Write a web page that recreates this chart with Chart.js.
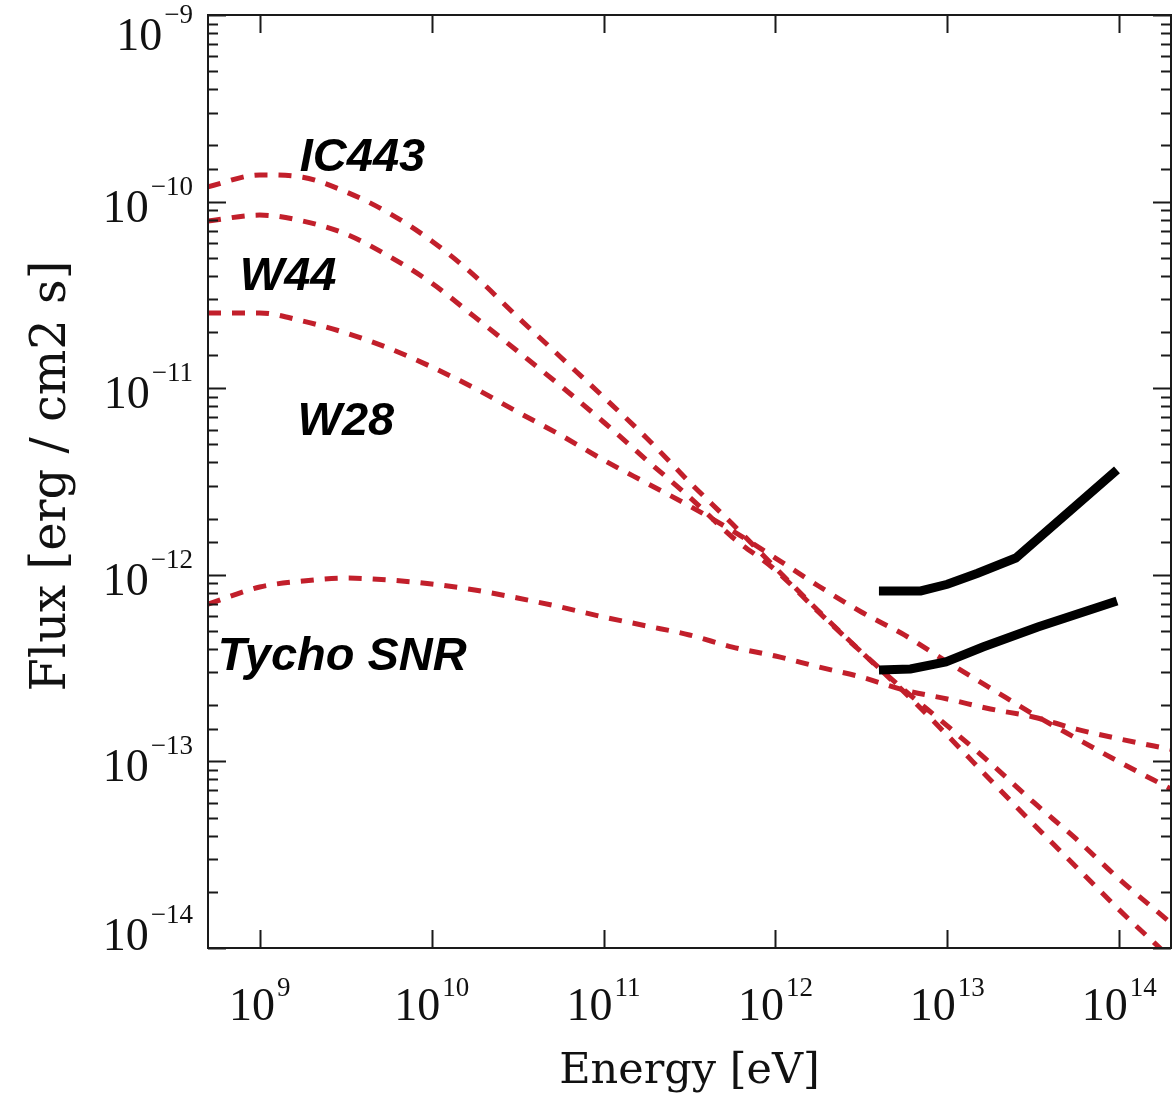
<!DOCTYPE html>
<html>
<head>
<meta charset="utf-8">
<script src="https://cdn.jsdelivr.net/npm/chart.js@4.4.0/dist/chart.umd.min.js"></script>
<style>
  html, body { margin: 0; padding: 0; background: #fff; }
  #wrap { width: 1173px; height: 1093px; }
</style>
</head>
<body>
<div id="wrap"><canvas id="sed-chart"></canvas></div>
<script>
// energies [eV] the model curves were read at
const energy = [5e8, 1e9, 1.78e9, 3.16e9, 5.62e9, 1e10, 1.78e10, 3.16e10, 5.62e10,
  1e11, 1.78e11, 3.16e11, 5.62e11, 1e12, 1.78e12, 3.16e12, 5.62e12,
  1e13, 1.78e13, 3.16e13, 5.62e13, 1e14, 2e14];

// model fluxes [erg / cm2 s]
const ic443 = [1.20e-10, 1.39e-10, 1.35e-10, 1.13e-10, 8.7e-11, 6.15e-11, 4.0e-11, 2.41e-11, 1.47e-11,
  8.97e-12, 5.41e-12, 3.14e-12, 1.87e-12, 1.09e-12, 6.4e-13, 3.86e-13, 2.35e-13,
  1.38e-13, 7.95e-14, 4.62e-14, 2.72e-14, 1.6e-14, 8.8e-15];
const w44 = [7.87e-11, 8.47e-11, 7.87e-11, 6.71e-11, 5.11e-11, 3.66e-11, 2.41e-11, 1.58e-11, 1.03e-11,
  6.59e-12, 4.12e-12, 2.61e-12, 1.59e-12, 1.06e-12, 6.32e-13, 3.86e-13, 2.41e-13,
  1.55e-13, 9.8e-14, 6.06e-14, 3.84e-14, 2.34e-14, 1.36e-14];
const w28 = [2.53e-11, 2.53e-11, 2.29e-11, 1.98e-11, 1.64e-11, 1.30e-11, 1.0e-11, 7.46e-12, 5.61e-12,
  4.12e-12, 3.1e-12, 2.34e-12, 1.72e-12, 1.23e-12, 8.71e-13, 6.32e-13, 4.76e-13,
  3.41e-13, 2.47e-13, 1.79e-13, 1.33e-13, 9.93e-14, 7.11e-14];
const tycho = [6.97e-13, 8.6e-13, 9.26e-13, 9.61e-13, 9.38e-13, 8.93e-13, 8.29e-13, 7.51e-13, 6.72e-13,
  5.94e-13, 5.32e-13, 4.76e-13, 4.1e-13, 3.67e-13, 3.21e-13, 2.83e-13, 2.41e-13,
  2.16e-13, 1.91e-13, 1.73e-13, 1.49e-13, 1.32e-13, 1.16e-13];

// sensitivity curves (black)
const sensHighE = [4e12, 7e12, 1e13, 1.5e13, 2.5e13, 9.7e13];
const sensHigh = [8.2e-13, 8.2e-13, 8.9e-13, 1.02e-12, 1.23e-12, 3.65e-12];
const sensLowE = [4e12, 6.1e12, 9.8e12, 1.61e13, 3.36e13, 9.7e13];
const sensLow = [3.09e-13, 3.13e-13, 3.41e-13, 4.1e-13, 5.25e-13, 7.24e-13];

const xRange = [5e8, 2e14];
const yRange = [1e-14, 1e-9];

const pairs = (xs, ys) => xs.map((x, i) => ({ x: x, y: ys[i] }));

// source names, anchored in data coordinates (left end of baseline)
const notes = [
  { text: 'IC443', x: 1.71e9, y: 1.46e-10 },
  { text: 'W44', x: 7.66e8, y: 3.36e-11 },
  { text: 'W28', x: 1.66e9, y: 5.61e-12 },
  { text: 'Tycho SNR', x: 5.7e8, y: 3.09e-13 }
];

const RED = '#c21f2b';
const redLine = (data) => ({
  data: data,
  borderColor: RED,
  borderWidth: 5,
  borderDash: [13, 11],
  pointRadius: 0,
  cubicInterpolationMode: 'monotone',
  fill: false
});
const blackLine = (data) => ({
  data: data,
  borderColor: '#000',
  borderWidth: 9,
  pointRadius: 0,
  tension: 0,
  fill: false
});

const sup = (e) => String(e).replace('-', '\u2212');

const framePlugin = {
  id: 'frame',
  afterDraw(chart) {
    const ctx = chart.ctx;
    const a = chart.chartArea;
    const xs = chart.scales.x, ys = chart.scales.y;
    ctx.save();
    ctx.strokeStyle = '#1a1a1a';
    ctx.lineWidth = 2;
    ctx.strokeRect(a.left, a.top, a.right - a.left, a.bottom - a.top);

    const isMajor = (v) => Math.abs(Math.log10(v) - Math.round(Math.log10(v))) < 1e-6;

    // x ticks: majors only, top and bottom, pointing inward
    ctx.beginPath();
    xs.ticks.forEach(t => {
      if (!isMajor(t.value)) return;
      const px = Math.round(xs.getPixelForValue(t.value)) + 0.5;
      if (px < a.left + 2 || px > a.right - 2) return;
      ctx.moveTo(px, a.bottom); ctx.lineTo(px, a.bottom - 18);
      ctx.moveTo(px, a.top); ctx.lineTo(px, a.top + 18);
    });
    // y ticks: majors and minors, left and right
    ys.ticks.forEach(t => {
      const py = Math.round(ys.getPixelForValue(t.value)) + 0.5;
      const len = isMajor(t.value) ? 18 : 10;
      ctx.moveTo(a.left, py); ctx.lineTo(a.left + len, py);
      ctx.moveTo(a.right, py); ctx.lineTo(a.right - len, py);
    });
    ctx.stroke();

    // tick labels 10^n
    ctx.fillStyle = '#111';
    const baseFont = '46px "Liberation Serif"';
    const expFont = '27px "Liberation Serif"';
    xs.ticks.forEach(t => {
      if (!isMajor(t.value)) return;
      const e = Math.round(Math.log10(t.value));
      const px = xs.getPixelForValue(t.value);
      ctx.font = baseFont; const wb = ctx.measureText('10').width;
      ctx.font = expFont; const we = ctx.measureText(sup(e)).width;
      const x0 = px - (wb + 2 + we) / 2;
      ctx.textAlign = 'left';
      ctx.font = baseFont; ctx.fillText('10', x0, a.bottom + 72);
      ctx.font = expFont; ctx.fillText(sup(e), x0 + wb + 2, a.bottom + 48);
    });
    ys.ticks.forEach(t => {
      if (!isMajor(t.value)) return;
      const e = Math.round(Math.log10(t.value));
      const py = ys.getPixelForValue(t.value);
      const base = Math.min(Math.max(py + 20, a.top + 35), a.bottom + 2);
      const right = a.left - 15;
      ctx.textAlign = 'right';
      ctx.font = expFont; const we = ctx.measureText(sup(e)).width;
      ctx.fillText(sup(e), right, base - 27);
      ctx.font = baseFont; ctx.fillText('10', right - we - 2, base);
    });

    // axis titles
    ctx.textAlign = 'center';
    ctx.font = '43px "DejaVu Serif"';
    ctx.fillText('Energy [eV]', (a.left + a.right) / 2, a.bottom + 135);
    ctx.save();
    ctx.translate(65, 476);
    ctx.rotate(-Math.PI / 2);
    ctx.font = '48px "DejaVu Serif"';
    ctx.fillText('Flux [erg / cm2 s]', 0, 0);
    ctx.restore();

    // source names
    ctx.textAlign = 'left';
    ctx.fillStyle = '#000';
    ctx.font = 'italic bold 47px "Liberation Sans"';
    notes.forEach(n => {
      ctx.fillText(n.text, xs.getPixelForValue(n.x), ys.getPixelForValue(n.y));
    });
    ctx.restore();
  }
};

new Chart(document.getElementById('sed-chart'), {
  type: 'line',
  data: {
    datasets: [
      blackLine(pairs(sensHighE, sensHigh)),
      blackLine(pairs(sensLowE, sensLow)),
      redLine(pairs(energy, ic443)),
      redLine(pairs(energy, w44)),
      redLine(pairs(energy, w28)),
      redLine(pairs(energy, tycho))
    ]
  },
  options: {
    responsive: true,
    maintainAspectRatio: false,
    animation: false,
    layout: { padding: { left: 208, top: 15, right: 2, bottom: 145 } },
    plugins: { legend: { display: false }, tooltip: { enabled: false } },
    scales: {
      x: { type: 'logarithmic', min: xRange[0], max: xRange[1], display: false },
      y: { type: 'logarithmic', min: yRange[0], max: yRange[1], display: false }
    }
  },
  plugins: [framePlugin]
});
</script>
</body>
</html>
